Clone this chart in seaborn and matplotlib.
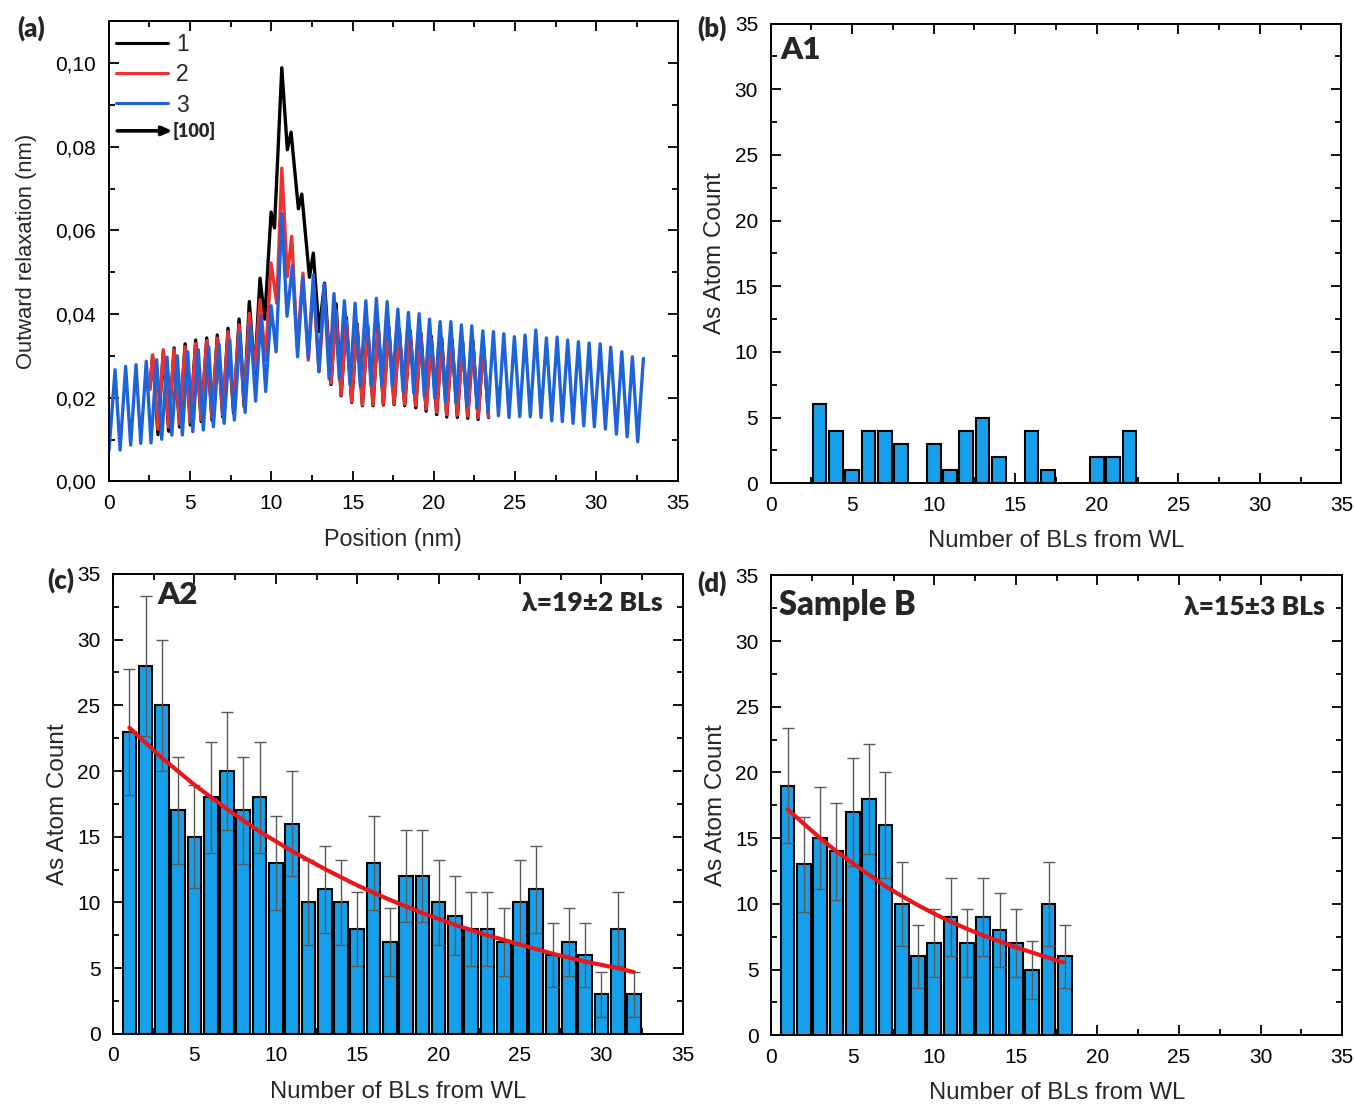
import numpy as np
import matplotlib
matplotlib.use("Agg")
import matplotlib.pyplot as plt
from matplotlib import ticker
import seaborn as sns

# ======================================
# Data
# ======================================

# (a) outward relaxation profiles: alternating troughs / peaks (nm, nm)
x_3 = [0.02, 0.39, 0.70, 1.04, 1.35, 1.68, 1.97, 2.31, 2.60, 2.95, 3.26, 3.59, 3.88, 4.22,
       4.53, 4.86, 5.17, 5.51, 5.82, 6.15, 6.44, 6.79, 7.10, 7.45, 7.73, 8.08, 8.39, 8.72,
       9.04, 9.36, 9.66, 9.99, 10.30, 10.65, 10.97, 11.30, 11.62, 11.94, 12.28, 12.59,
       12.93, 13.25, 13.56, 13.86, 14.19, 14.50, 14.85, 15.16, 15.48, 15.82, 16.14, 16.47,
       16.80, 17.13, 17.45, 17.79, 18.11, 18.44, 18.77, 19.10, 19.42, 19.74, 20.06, 20.39,
       20.71, 21.05, 21.37, 21.70, 22.03, 22.34, 22.66, 23.02, 23.34, 23.67, 23.98, 24.31,
       24.63, 24.96, 25.29, 25.62, 25.94, 26.28, 26.60, 26.93, 27.26, 27.59, 27.91, 28.24,
       28.57, 28.90, 29.23, 29.56, 29.88, 30.24, 30.56, 30.89, 31.24, 31.57, 31.90, 32.22,
       32.55, 32.90]
y_3 = [0.0075, 0.0267, 0.0075, 0.0275, 0.0087, 0.0279, 0.0091, 0.0287, 0.0092, 0.0291,
       0.0101, 0.0297, 0.0111, 0.0300, 0.0111, 0.0310, 0.0119, 0.0315, 0.0123, 0.0322,
       0.0131, 0.0328, 0.0139, 0.0338, 0.0147, 0.0355, 0.0165, 0.0372, 0.0192, 0.0395,
       0.0215, 0.0420, 0.0310, 0.0639, 0.0395, 0.0516, 0.0298, 0.0488, 0.0295, 0.0494,
       0.0263, 0.0472, 0.0245, 0.0449, 0.0245, 0.0432, 0.0231, 0.0426, 0.0227, 0.0432,
       0.0228, 0.0438, 0.0231, 0.0430, 0.0227, 0.0412, 0.0215, 0.0404, 0.0211, 0.0401,
       0.0203, 0.0388, 0.0199, 0.0382, 0.0191, 0.0382, 0.0188, 0.0374, 0.0179, 0.0372,
       0.0175, 0.0360, 0.0165, 0.0358, 0.0157, 0.0353, 0.0153, 0.0346, 0.0155, 0.0350,
       0.0155, 0.0362, 0.0153, 0.0343, 0.0145, 0.0345, 0.0143, 0.0338, 0.0139, 0.0334,
       0.0133, 0.0331, 0.0131, 0.0329, 0.0125, 0.0321, 0.0113, 0.0310, 0.0107, 0.0298,
       0.0095, 0.0294]

x_2 = [2.52, 2.70, 3.03, 3.36, 3.69, 4.02, 4.36, 4.70, 5.02, 5.35, 5.69, 6.03, 6.35, 6.68,
       7.01, 7.34, 7.68, 8.02, 8.33, 8.65, 8.98, 9.31, 9.65, 9.99, 10.34, 10.65, 10.99,
       11.26, 11.60, 11.95, 12.28, 12.59, 12.94, 13.28, 13.68, 13.99, 14.30, 14.62, 14.95,
       15.28, 15.61, 15.93, 16.26, 16.58, 16.90, 17.23, 17.56, 17.88, 18.21, 18.55, 18.89,
       19.21, 19.53, 19.85, 20.18, 20.49, 20.80, 21.12, 21.45, 21.77, 22.09, 22.41, 22.73,
       23.05, 23.37]
y_2 = [0.0220, 0.0303, 0.0125, 0.0315, 0.0130, 0.0315, 0.0137, 0.0322, 0.0142, 0.0330,
       0.0148, 0.0337, 0.0153, 0.0343, 0.0160, 0.0358, 0.0170, 0.0374, 0.0185, 0.0402,
       0.0265, 0.0434, 0.0290, 0.0522, 0.0426, 0.0749, 0.0490, 0.0586, 0.0320, 0.0498,
       0.0290, 0.0470, 0.0262, 0.0450, 0.0235, 0.0410, 0.0207, 0.0385, 0.0191, 0.0372,
       0.0183, 0.0370, 0.0183, 0.0370, 0.0185, 0.0365, 0.0186, 0.0360, 0.0184, 0.0355,
       0.0181, 0.0350, 0.0173, 0.0342, 0.0165, 0.0337, 0.0159, 0.0335, 0.0158, 0.0332,
       0.0156, 0.0330, 0.0153, 0.0325, 0.0155]

x_1 = [2.52, 2.70, 3.03, 3.36, 3.69, 4.02, 4.36, 4.70, 5.02, 5.35, 5.69, 6.03, 6.35, 6.68,
       7.01, 7.34, 7.68, 8.02, 8.33, 8.65, 8.98, 9.31, 9.60, 9.99, 10.20, 10.65, 10.99,
       11.22, 11.67, 11.88, 12.35, 12.59, 12.94, 13.28, 13.68, 13.99, 14.30, 14.62, 14.95,
       15.28, 15.61, 15.93, 16.26, 16.58, 16.90, 17.23, 17.56, 17.88, 18.21, 18.55, 18.89,
       19.21, 19.53, 19.85, 20.18, 20.49, 20.80, 21.12, 21.45, 21.77, 22.09, 22.41, 22.73,
       23.05, 23.37]
y_1 = [0.0220, 0.0300, 0.0112, 0.0310, 0.0120, 0.0319, 0.0130, 0.0329, 0.0135, 0.0338,
       0.0143, 0.0343, 0.0147, 0.0350, 0.0155, 0.0366, 0.0163, 0.0388, 0.0179, 0.0430,
       0.0258, 0.0486, 0.0388, 0.0644, 0.0606, 0.0989, 0.0793, 0.0835, 0.0652, 0.0687,
       0.0488, 0.0546, 0.0358, 0.0474, 0.0232, 0.0425, 0.0205, 0.0392, 0.0189, 0.0377,
       0.0181, 0.0374, 0.0181, 0.0374, 0.0183, 0.0370, 0.0184, 0.0365, 0.0181, 0.0360,
       0.0176, 0.0355, 0.0168, 0.0347, 0.0160, 0.0342, 0.0154, 0.0340, 0.0153, 0.0337,
       0.0151, 0.0335, 0.0148, 0.0330, 0.0153]

# (b) sample A1
bl_a1 = [3, 4, 5, 6, 7, 8, 10, 11, 12, 13, 14, 16, 17, 20, 21, 22]
count_a1 = [6, 4, 1, 4, 4, 3, 3, 1, 4, 5, 2, 4, 1, 2, 2, 4]

# (c) sample A2
bl_a2 = list(range(1, 33))
count_a2 = [23, 28, 25, 17, 15, 18, 20, 17, 18, 13, 16, 10, 11, 10, 8, 13,
            7, 12, 12, 10, 9, 8, 8, 7, 10, 11, 6, 7, 6, 3, 8, 3]
err_a2 = [4.8, 5.3, 5.0, 4.1, 3.9, 4.2, 4.5, 4.1, 4.2, 3.6, 4.0, 3.2, 3.3, 3.2, 2.8, 3.6,
          2.6, 3.5, 3.5, 3.2, 3.0, 2.8, 2.8, 2.6, 3.2, 3.3, 2.4, 2.6, 2.4, 1.7, 2.8, 1.7]
fit_x_a2 = [1, 3, 5, 7, 9, 11, 13, 15, 17, 19, 21, 23, 25, 27, 29, 31, 32]
fit_y_a2 = [23.3, 21.0, 18.95, 17.1, 15.4, 13.9, 12.55, 11.3, 10.2, 9.2, 8.3, 7.5,
            6.8, 6.1, 5.5, 5.0, 4.7]

# (d) sample B
bl_b = list(range(1, 19))
count_b = [19, 13, 15, 14, 17, 18, 16, 10, 6, 7, 9, 7, 9, 8, 7, 5, 10, 6]
err_b = [4.4, 3.6, 3.9, 3.7, 4.1, 4.2, 4.0, 3.2, 2.4, 2.6, 3.0, 2.6, 3.0, 2.8, 2.6, 2.2, 3.2, 2.4]
fit_x_b = [1, 2, 3, 4, 5, 6, 7, 8, 9, 10, 11, 12, 13, 14, 15, 16, 17, 17.9]
fit_y_b = [17.2, 16.1, 15.0, 14.0, 13.1, 12.2, 11.35, 10.6, 9.9, 9.25, 8.65, 8.1,
           7.6, 7.15, 6.7, 6.3, 5.9, 5.55]

# ======================================
# Style
# ======================================
sns.set_theme(style="ticks")
plt.rcParams["font.family"] = ["Liberation Sans", "DejaVu Sans"]
plt.rcParams["axes.linewidth"] = 1.4

BOLD = ["Lato", "Open Sans", "DejaVu Sans"]
HEAVY = "heavy"
BAR_COLOR = "#16a0ec"
FIT_COLOR = "#e8171c"
ERR_COLOR = "#5a5a5a"


def style_axis(ax, ymajor, yminor):
    ax.set_xlim(0, 35)
    ax.xaxis.set_major_locator(ticker.MultipleLocator(5))
    ax.xaxis.set_minor_locator(ticker.MultipleLocator(2.5))
    ax.yaxis.set_major_locator(ticker.MultipleLocator(ymajor))
    ax.yaxis.set_minor_locator(ticker.MultipleLocator(yminor))
    ax.tick_params(which="both", direction="in", top=True, right=True,
                   width=1.3, colors="black")
    ax.tick_params(which="major", length=7, labelsize=15, pad=9)
    ax.tick_params(which="minor", length=4)
    for s in ax.spines.values():
        s.set_color("black")
        s.set_linewidth(1.4)


def count_panel(ax, x, y, err=None, fit_x=None, fit_y=None):
    sns.barplot(x=x, y=y, native_scale=True, width=0.84, color=BAR_COLOR,
                saturation=1, edgecolor="black", linewidth=1.5, errorbar=None, ax=ax)
    if err is not None:
        ax.errorbar(x, y, yerr=err, fmt="none", ecolor=ERR_COLOR, elinewidth=1.0,
                    capsize=4, capthick=1.0, zorder=3)
    if fit_x is not None:
        sns.lineplot(x=fit_x, y=fit_y, color=FIT_COLOR, lw=3, estimator=None,
                     sort=False, ax=ax, zorder=4)
    style_axis(ax, 5, 2.5)
    ax.set_ylim(0, 35)
    ax.set_xlabel("Number of BLs from WL", fontsize=17.2, labelpad=11)
    ax.set_ylabel("As Atom Count", fontsize=17.5, labelpad=6)


fig = plt.figure(figsize=(13.54, 11.06), dpi=100)

ax_a = fig.add_axes([0.0803, 0.5647, 0.4201, 0.4160])
ax_b = fig.add_axes([0.5691, 0.5631, 0.4216, 0.4156])
ax_c = fig.add_axes([0.0835, 0.0652, 0.4208, 0.4159])
ax_d = fig.add_axes([0.5696, 0.0639, 0.4216, 0.4159])

# ======================================
# (a) relaxation profiles
# ======================================
line_kw = dict(lw=2.4, estimator=None, sort=False, ax=ax_a,
               solid_joinstyle="round", solid_capstyle="round")
sns.lineplot(x=x_1, y=y_1, color="black", label="1", **line_kw)
sns.lineplot(x=x_2, y=y_2, color="#f0302e", label="2", **line_kw)
sns.lineplot(x=x_3, y=y_3, color="#1f63d8", label="3", **line_kw)
style_axis(ax_a, 0.02, 0.01)
ax_a.set_ylim(0, 0.11)
ax_a.yaxis.set_major_formatter(ticker.FuncFormatter(lambda v, p: f"{v:.2f}".replace(".", ",")))
ax_a.set_xlabel("Position (nm)", fontsize=16.8, labelpad=11)
ax_a.set_ylabel("Outward relaxation (nm)", fontsize=15.8, labelpad=13)
leg = ax_a.legend(loc="upper left", bbox_to_anchor=(0.012, 0.975), frameon=False,
                  fontsize=16.5, handlelength=2.3, handletextpad=0.35, labelspacing=0.32,
                  borderpad=0, borderaxespad=0)
for h in leg.get_lines():
    h.set_linewidth(2.2)
ax_a.annotate("", xy=(0.112, 0.762), xytext=(0.015, 0.762), xycoords="axes fraction",
              arrowprops=dict(arrowstyle="-|>,head_length=0.5,head_width=0.22",
                              lw=2.6, color="black", shrinkA=0, shrinkB=0))
ax_a.text(0.113, 0.762, "[100]", transform=ax_a.transAxes, fontsize=13,
          fontweight=HEAVY, va="center", ha="left", family=BOLD)

# ======================================
# (b)-(d) As atom counts
# ======================================
count_panel(ax_b, bl_a1, count_a1)
ax_b.text(0.018, 0.943, "A1", transform=ax_b.transAxes, fontsize=22.5,
          fontweight=HEAVY, va="center", ha="left", family=BOLD)

count_panel(ax_c, bl_a2, count_a2, err_a2, fit_x_a2, fit_y_a2)
ax_c.text(0.077, 0.954, "A2", transform=ax_c.transAxes, fontsize=22.5,
          fontweight=HEAVY, va="center", ha="left", family=BOLD)
ax_c.text(0.965, 0.937, "λ=19±2 BLs", transform=ax_c.transAxes, fontsize=19,
          fontweight=HEAVY, va="center", ha="right", family=BOLD)

count_panel(ax_d, bl_b, count_b, err_b, fit_x_b, fit_y_b)
ax_d.text(0.0135, 0.935, "Sample B", transform=ax_d.transAxes, fontsize=23.5,
          fontweight=HEAVY, va="center", ha="left", family=BOLD)
ax_d.text(0.970, 0.931, "λ=15±3 BLs", transform=ax_d.transAxes, fontsize=19,
          fontweight=HEAVY, va="center", ha="right", family=BOLD)

# panel letters
for lab, (px, py) in {"(a)": (0.0126, 0.9747), "(b)": (0.5148, 0.9747),
                      "(c)": (0.0347, 0.4756), "(d)": (0.5148, 0.4729)}.items():
    fig.text(px, py, lab, fontsize=18.5, fontweight=HEAVY, va="center", ha="left",
             family=BOLD)

fig.savefig("out.png", dpi=100)
